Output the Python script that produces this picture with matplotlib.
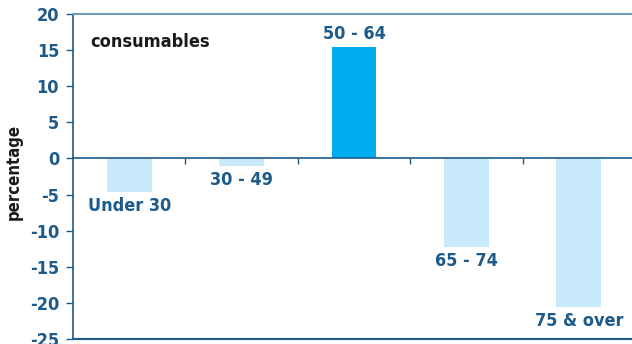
import matplotlib
matplotlib.use("Agg")
import matplotlib.pyplot as plt

categories = ["Under 30", "30 - 49", "50 - 64", "65 - 74", "75 & over"]
values = [-4.7, -1.0, 15.4, -12.2, -20.5]
highlight = "50 - 64"
y_ticks = [20, 15, 10, 5, 0, -5, -10, -15, -20, -25]

DARK = "#1b5a8a"
LIGHT = "#c7e9f9"
BRIGHT = "#00aeef"
TOPLINE = "#6f9cba"

plt.rcParams["font.family"] = ["DejaVu Sans"]
plt.rcParams["font.stretch"] = "condensed"

fig = plt.figure(figsize=(6.32, 3.44), dpi=100)
ax = fig.add_axes([73 / 632, 5 / 344, 562 / 632, 325 / 344])

x = list(range(len(categories)))
colors = [BRIGHT if c == highlight else LIGHT for c in categories]
ax.bar(x, values, width=0.4, color=colors, zorder=2)

for xi, v, c in zip(x, values, categories):
    if v >= 0:
        ax.text(xi, v + 0.6, c, ha="center", va="bottom", color=DARK,
                fontsize=13, fontweight="bold")
    else:
        ax.text(xi, v - 0.7, c, ha="center", va="top", color=DARK,
                fontsize=13, fontweight="bold")

ax.set_xlim(-0.5, len(categories) - 0.5)
ax.set_ylim(-25, 20)
ax.set_yticks(y_ticks)
ax.set_yticklabels([str(t) for t in y_ticks], color=DARK, fontsize=13,
                   fontweight="bold")
ax.tick_params(axis="y", direction="out", length=5, width=1, color=DARK, pad=5)

# category separators sit on the zero line
ax.spines["bottom"].set_position(("data", 0))
ax.spines["bottom"].set_color(DARK)
ax.spines["bottom"].set_linewidth(1.2)
ax.set_xticks([i + 0.5 for i in x[:-1]])
ax.tick_params(axis="x", direction="out", length=4, width=1, color=DARK,
               labelbottom=False)

ax.spines["left"].set_color(DARK)
ax.spines["left"].set_linewidth(1.2)
ax.spines["top"].set_color(TOPLINE)
ax.spines["top"].set_linewidth(1.5)
ax.spines["right"].set_visible(False)
ax.axhline(-25, color=DARK, linewidth=1.5, clip_on=False, zorder=3)

ax.text(0.03, 0.915, "consumables", transform=ax.transAxes, ha="left",
        va="center", fontsize=13, fontweight="bold", color="#1a1a1a")
ax.set_ylabel("percentage", fontsize=12, fontweight="bold", color="#1a1a1a")
ax.yaxis.set_label_coords(-0.09, 0.515)

fig.savefig("out.png", dpi=100)
